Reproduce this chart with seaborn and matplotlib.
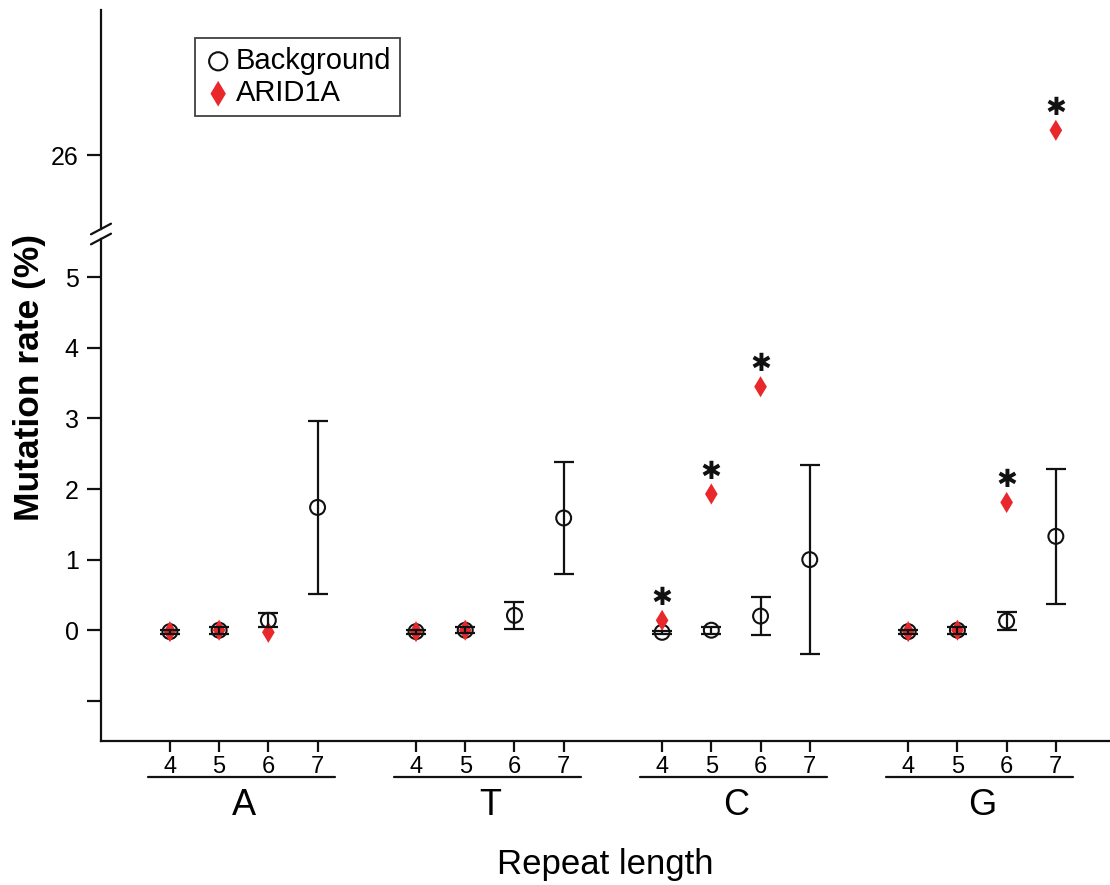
import matplotlib
matplotlib.use("Agg")
import matplotlib.pyplot as plt
import matplotlib.transforms as mtransforms
import numpy as np
import pandas as pd
import seaborn as sns

# data
bases = ["A", "T", "C", "G"]
repeat_lengths = [4, 5, 6, 7]
background_rate = [-0.02, 0.0, 0.14, 1.74,
                   -0.02, 0.0, 0.21, 1.59,
                   -0.03, 0.0, 0.20, 1.00,
                   -0.02, 0.0, 0.13, 1.33]
background_err = [0.03, 0.05, 0.10, 1.23,
                  0.03, 0.04, 0.19, 0.80,
                  0.02, 0.05, 0.27, 1.34,
                  0.03, 0.05, 0.13, 0.96]
arid1a_rate = [-0.02, 0.0, -0.03, np.nan,
               -0.02, 0.0, np.nan, np.nan,
               0.14, 1.93, 3.45, np.nan,
               -0.02, 0.0, 1.81, 26.35]
significant = [False, False, False, False,
               False, False, False, False,
               True, True, True, False,
               False, False, True, True]

# x position: 5 slots per base (4 repeat lengths + gap)
xpos = [5 * b + r for b in range(len(bases)) for r in range(len(repeat_lengths))]
df = pd.DataFrame({
    "x": xpos,
    "base": [b for b in bases for _ in repeat_lengths],
    "length": repeat_lengths * len(bases),
    "background": background_rate,
    "bg_err": background_err,
    "arid1a": arid1a_rate,
    "sig": significant,
})

sns.set_style("white")
plt.rcParams["font.family"] = ["Liberation Sans", "DejaVu Sans"]
plt.rcParams["text.color"] = "black"
plt.rcParams["axes.labelcolor"] = "black"
plt.rcParams["xtick.color"] = "black"
plt.rcParams["ytick.color"] = "black"
ink = "#111111"

fig = plt.figure(figsize=(11.1, 8.85), dpi=100)
ax_lo = fig.add_axes([0.091, 0.1627, 0.909, 0.567])
ax_hi = fig.add_axes([0.091, 0.741, 0.909, 0.2475], sharex=ax_lo)

for ax in (ax_lo, ax_hi):
    ax.errorbar(df["x"], df["background"], yerr=df["bg_err"], fmt="none",
                ecolor=ink, elinewidth=1.6, capsize=7, capthick=1.6, zorder=4)
    sns.scatterplot(data=df, x="x", y="background", ax=ax, marker="o", s=115,
                    facecolor="none", edgecolor=ink, linewidth=1.5,
                    label="Background", zorder=3)
    sns.scatterplot(data=df.dropna(subset=["arid1a"]), x="x", y="arid1a", ax=ax,
                    marker="d", s=115, color="#e8282b", edgecolor="none",
                    label="ARID1A", zorder=3.5)
    for _, row in df[df["sig"]].iterrows():
        ax.annotate("\u2731", (row["x"], row["arid1a"]), xytext=(0, 16),
                    textcoords="offset points", ha="center", va="center",
                    fontsize=18, color=ink, family="DejaVu Sans")
    ax.set_xlim(-1.4, 19.1)
    ax.set_ylabel("")
    for s in ["top", "right"]:
        ax.spines[s].set_visible(False)
    ax.spines["left"].set_linewidth(1.6)
    ax.spines["left"].set_color(ink)
    ax.tick_params(axis="y", direction="out", length=10, width=1.6,
                   labelsize=18, color=ink, left=True, pad=6)

ax_lo.set_ylim(-1.57, 5.54)
ax_lo.set_yticks([-1, 0, 1, 2, 3, 4, 5])
ax_lo.set_yticklabels(["", "0", "1", "2", "3", "4", "5"])
ax_lo.spines["bottom"].set_linewidth(1.6)
ax_lo.spines["bottom"].set_color(ink)
ax_lo.set_xticks(df["x"])
ax_lo.set_xticklabels(df["length"])
ax_lo.tick_params(axis="x", direction="out", length=8, width=1.6,
                  labelsize=17, color=ink, bottom=True, pad=3)
ax_lo.legend_.remove()

ax_hi.set_ylim(24.95, 28.05)
ax_hi.set_yticks([26])
ax_hi.spines["bottom"].set_visible(False)
ax_hi.tick_params(axis="x", bottom=False, labelbottom=False)
ax_hi.set_xlabel("")

leg = ax_hi.legend(loc="upper left", bbox_to_anchor=(0.093, 0.872), borderaxespad=0,
                   frameon=True, fancybox=False, edgecolor=ink, fontsize=21,
                   handletextpad=0.1, handlelength=1.0, borderpad=0.3, labelspacing=0.15)
leg.get_frame().set_linewidth(1.3)
for h in leg.legend_handles:
    h.set_sizes([170])

# base group underlines and letters
trans = mtransforms.blended_transform_factory(ax_lo.transData, ax_lo.transAxes)
for i, b in enumerate(bases):
    x0 = 5 * i
    ax_lo.plot([x0 - 0.45, x0 + 3.35], [-0.072, -0.072], transform=trans,
               color=ink, lw=1.6, clip_on=False)
    ax_lo.text(x0 + 1.5, -0.128, b, transform=trans, ha="center", va="center",
               fontsize=26)

ax_lo.set_xlabel("Repeat length", fontsize=25, labelpad=50)

fig.text(0.027, 0.573, "Mutation rate (%)", rotation=90, ha="center", va="center",
         fontsize=25.5, fontweight="bold")

# axis break marks
for yb in (229, 239):
    yf = (885 - yb) / 885
    fig.add_artist(plt.Line2D([91 / 1110, 111 / 1110], [yf - 0.006, yf + 0.006],
                              color=ink, lw=1.6))

fig.savefig("out.png", dpi=100)
